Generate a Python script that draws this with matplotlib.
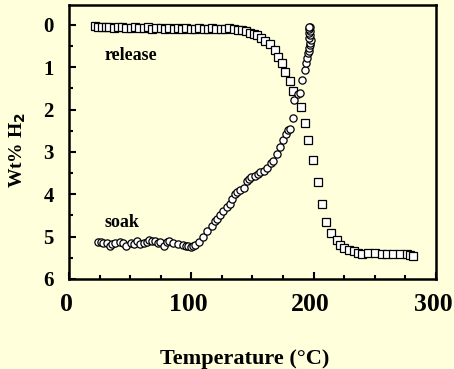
import matplotlib
matplotlib.use("Agg")
import matplotlib.pyplot as plt
from matplotlib.ticker import MultipleLocator
from matplotlib.transforms import ScaledTranslation

# Hydrogen release curve (wt% vs temperature)
release_T = [21.5, 24, 27, 30, 33, 36.5, 40, 43.5, 47, 50.5,
             54, 57.5, 61, 64.5, 68, 71.5, 75, 78.5, 82, 85.5,
             89, 92.5, 96, 99.5, 103, 106.5, 110, 113.5, 117, 120.5,
             124, 127.5, 131, 134.5, 138, 141.5, 145, 148, 151, 154,
             157, 160, 164, 168, 171, 174, 176.6, 180.7, 183, 189.6,
             193, 195.4, 199.5, 203.6, 206.8, 210, 214, 219, 221.5, 224.8,
             229, 233, 236, 239.5, 244.4, 250, 255.9, 260, 265, 270.6,
             276, 279, 281]
release_W = [0.03, 0.05, 0.04, 0.06, 0.05, 0.07, 0.06, 0.05, 0.07, 0.08,
             0.06, 0.07, 0.08, 0.06, 0.09, 0.08, 0.07, 0.09, 0.08, 0.10,
             0.08, 0.09, 0.07, 0.10, 0.09, 0.08, 0.10, 0.09, 0.07, 0.10,
             0.09, 0.10, 0.08, 0.10, 0.11, 0.12, 0.14, 0.20, 0.22, 0.25,
             0.30, 0.38, 0.45, 0.60, 0.75, 0.90, 1.12, 1.32, 1.57, 1.93,
             2.31, 2.72, 3.19, 3.70, 4.23, 4.66, 4.92, 5.08, 5.20, 5.27,
             5.32, 5.34, 5.39, 5.40, 5.39, 5.39, 5.40, 5.40, 5.42, 5.40,
             5.41, 5.44, 5.46]

# Hydrogen soak (uptake) curve
soak_T = [23.5, 26, 28, 31, 33.5, 35.5, 37.6, 41.7, 44, 46.6,
          50.7, 53, 55.6, 58, 61.3, 63.5, 65.4, 68, 70.3, 72.5,
          74.4, 77.7, 80, 81.8, 85, 89, 93.2, 95.5, 97.3, 99.7,
          101.5, 103, 106.3, 109.5, 112.8, 116.9, 119.4, 121, 123.4, 126,
          129, 131.6, 133, 135.7, 137.3, 139.8, 143, 145.5, 147, 149,
          152, 154.5, 156, 159, 161.6, 164.9, 166.5, 169.8, 172.5, 175,
          177, 179, 180.7, 183, 184, 187, 188.8, 190.5, 193, 193.7,
          194.6, 195.4,
          196.0, 196.5, 197.2, 196.8, 197.5, 196.4, 197.0, 196.2, 196.8, 196.3,
          196.6, 195.8]
soak_W = [5.13, 5.12, 5.14, 5.16, 5.22, 5.18, 5.15, 5.13, 5.16, 5.21,
          5.15, 5.17, 5.11, 5.18, 5.16, 5.13, 5.08, 5.10, 5.11, 5.14,
          5.13, 5.22, 5.12, 5.11, 5.16, 5.18, 5.20, 5.21, 5.22, 5.24,
          5.21, 5.20, 5.13, 5.00, 4.87, 4.74, 4.63, 4.58, 4.50, 4.40,
          4.30, 4.22, 4.12, 4.00, 3.95, 3.90, 3.86, 3.68, 3.64, 3.60,
          3.56, 3.52, 3.48, 3.45, 3.39, 3.27, 3.22, 3.04, 2.88, 2.72,
          2.58, 2.48, 2.45, 2.20, 1.77, 1.63, 1.60, 1.30, 1.06, 0.90,
          0.78, 0.66,
          0.62, 0.55, 0.48, 0.42, 0.36, 0.30, 0.25, 0.20, 0.15, 0.10,
          0.06, 0.04]

x_ticks = [0, 100, 200, 300]
y_ticks = [0, 1, 2, 3, 4, 5, 6]

bg = "#FFFFDC"
plt.rcParams["font.family"] = ["Liberation Serif", "DejaVu Serif"]
plt.rcParams["font.weight"] = "bold"

fig = plt.figure(figsize=(4.54, 3.69), dpi=100, facecolor=bg)
ax = fig.add_axes([69 / 454, 1 - 279 / 369, (436 - 69) / 454, (279 - 5) / 369])
ax.set_facecolor(bg)

mk = dict(linestyle="none", markerfacecolor="white", markeredgecolor="black",
          markeredgewidth=0.9, markersize=5.2)
ax.plot(release_T, release_W, marker="s", **mk)
ax.plot(soak_T, soak_W, marker="o", **mk)

ax.set_xlim(0, 300)
ax.set_ylim(6, -0.47)
ax.set_xticks(x_ticks)
ax.set_yticks(y_ticks)
ax.xaxis.set_minor_locator(MultipleLocator(25))
ax.yaxis.set_minor_locator(MultipleLocator(0.5))

ax.tick_params(axis="both", which="both", direction="in", top=False, right=False)
ax.tick_params(axis="both", which="major", length=5, width=1.5)
ax.tick_params(axis="both", which="minor", length=3, width=1.5)
ax.tick_params(axis="x", which="major", labelsize=18.5, pad=10)
ax.tick_params(axis="y", which="major", labelsize=15, pad=11)
shift = ScaledTranslation(-3 / 100, 0, fig.dpi_scale_trans)
for lab in ax.get_xticklabels():
    lab.set_fontweight("bold")
    lab.set_transform(lab.get_transform() + shift)
for lab in ax.get_yticklabels():
    lab.set_fontweight("bold")

for s in ax.spines.values():
    s.set_linewidth(1.8)

ax.set_xlabel("Temperature (\u00b0C)", fontsize=16, fontweight="bold")
ax.xaxis.set_label_coords(0.48, -0.255)
ax.set_ylabel(r"Wt% H$_\mathbf{2}$", fontsize=14, fontweight="bold")
ax.yaxis.set_label_coords(-0.112, 0.47)

ax.text(29.4, 0.83, "release", fontsize=13, fontweight="bold", va="baseline")
ax.text(29.4, 4.78, "soak", fontsize=13, fontweight="bold", va="baseline")

fig.savefig("out.png", dpi=100, facecolor=bg)
